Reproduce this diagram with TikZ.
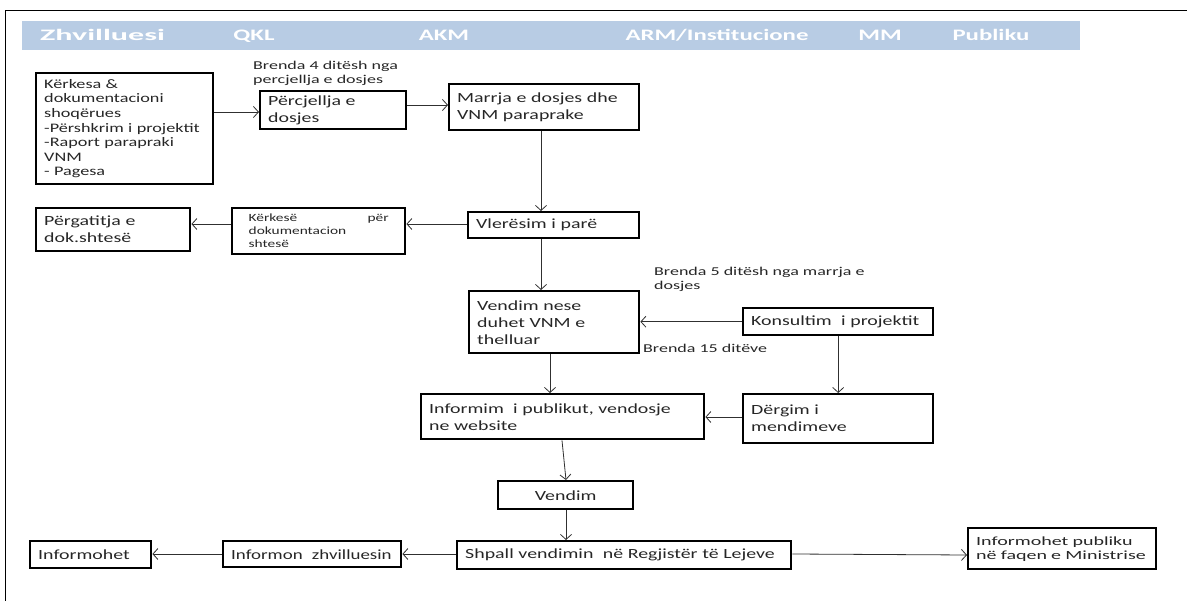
\documentclass[tikz,border=0pt]{standalone}
\usepackage{fontspec}
\setmainfont{Carlito}
\newfontfamily\fA[FakeStretch=1.42]{Carlito}
\newfontfamily\fM[FakeStretch=1.35]{Carlito}
\newfontfamily\fK[FakeStretch=1.4]{Carlito}
\newfontfamily\fL[FakeStretch=1.5]{Carlito}
\newfontfamily\fO[FakeStretch=1.6]{Carlito}
\newfontfamily\fE[FakeStretch=1.4]{Carlito}
\newfontfamily\fH[FakeStretch=1.55]{Carlito}
\newfontfamily\fZ[FakeStretch=2.0]{Carlito}
\usetikzlibrary{arrows.meta}
\definecolor{hdr}{HTML}{B8CCE4}
\definecolor{ln}{HTML}{303030}
\tikzset{
  box/.style={draw=black, line width=2.4pt, anchor=north west, inner xsep=8pt, inner ysep=2pt, align=left, font=\fA\fontsize{14}{17}\selectfont, text=black!85},
  hd/.style={font=\fH\fontsize{16}{17}\selectfont\bfseries, text=white, anchor=base},
  lbl/.style={font=\fL\fontsize{12}{13.5}\selectfont, align=left, anchor=north west, inner sep=0pt, text=black!85},
  conn/.style={draw=ln, line width=0.8pt, -{Straight Barb[length=5pt,width=11pt,line width=0.8pt]}}
}
\newcommand{\bx}[6]{\node[box, minimum width=#4pt, minimum height=#5pt, text width=#4pt-16pt] (#1) at (#2,#3) {#6};}
\begin{document}
\begin{tikzpicture}[x=1pt,y=-1pt]
\useasboundingbox (0,0) rectangle (1187,601);
% frame
\draw[line width=1.2pt] (5.5,620) -- (5.5,10.5) -- (1200,10.5);
% header
\fill[hdr] (22,21) rectangle (1080,50);
\node[hd, anchor=base west, inner sep=0pt, font=\fZ\fontsize{16}{17}\selectfont\bfseries] (h1) at (40,41) {Zhvilluesi};
\node[hd] (h2) at (254,41) {QKL};
\node[hd] (h3) at (444,41) {AKM};
\node[hd] (h4) at (717,41) {ARM/Institucione};
\node[hd] (h5) at (880,41) {MM};
\node[hd] (h6) at (991,41) {Publiku};
% boxes
\node[box, minimum width=177pt, minimum height=111pt, text width=161pt, font=\fK\fontsize{13}{14.6}\selectfont] (a) at (35,72) {Kërkesa \&\\dokumentacioni\\shoqërues\\-Përshkrim i projektit\\-Raport parapraki\\VNM\\- Pagesa};
\bx{b}{259}{90}{146}{38}{Përcjellja e\\dosjes}
\bx{c}{448}{83}{190}{46}{Marrja e dosjes dhe\\VNM paraprake}
\bx{d}{467}{211}{171}{26}{Vlerësim i parë}
\node[box, minimum width=173pt, minimum height=46pt, text width=140pt, font=\fE\fontsize{11}{13}\selectfont] (e) at (231,207) {Kërkesë\hfill për\\dokumentacion\\shtesë};
\bx{f}{35}{207}{154}{43}{Përgatitja e\\dok.shtesë}
\bx{g}{468}{290}{170}{62}{Vendim nese\\duhet VNM e\\thelluar}
\bx{h}{742}{307}{190}{27}{\mbox{Konsultim\ \ i projektit}}
\bx{i}{742}{393}{190}{49}{Dërgim i\\mendimeve}
\bx{j}{420}{393}{283}{45}{Informim\ \ i publikut, vendosje\\ne website}
\node[box, minimum width=135pt, minimum height=28pt, align=center, text width=119pt] (k) at (497,480) {Vendim};
\bx{l}{456}{540}{334}{28}{\mbox{Shpall vendimin\ \ në Regjistër të Lejeve}}
\node[box, minimum width=178pt, minimum height=26pt, text width=162pt, font=\fM\fontsize{14}{17}\selectfont] (m) at (222,540) {\mbox{Informon\ \ zhvilluesin}};
\bx{n}{29}{540}{121}{27}{Informohet}
\node[box, minimum width=188pt, minimum height=41pt, text width=172pt, font=\fO\fontsize{12.5}{14}\selectfont] (o) at (967,527) {Informohet publiku\\në faqen e Ministrise};
% labels
\node[lbl] (t1) at (253,61) {Brenda 4 ditësh nga\\percjellja e dosjes};
\node[lbl] (t2) at (654,267) {Brenda 5 ditësh nga marrja e\\dosjes};
\node[lbl] (t3) at (643,344) {Brenda 15 ditëve};
% connectors
\draw[conn] (a.east |- 0,112) -- (b.west |- 0,112);
\draw[conn] (b.east |- 0,105) -- (c.west |- 0,105);
\draw[conn] (c.south -| 541,0) -- (d.north -| 541,0);
\draw[conn] (d.west |- 0,224) -- (e.east |- 0,224);
\draw[conn] (e.west |- 0,224) -- (f.east |- 0,224);
\draw[conn] (d.south -| 541,0) -- (g.north -| 541,0);
\draw[conn] (h.west) -- (g.east |- h.west);
\draw[conn] (g.south -| 550,0) -- (j.north -| 550,0);
\draw[conn] (h.south) -- (i.north);
\draw[conn] (i.west |- 0,417) -- (j.east |- 0,417);
\draw[conn] (j.south -| 562,0) -- (k.north -| 566,0);
\draw[conn] (k.south -| 566,0) -- (l.north -| 566,0);
\draw[conn] (l.west |- 0,554) -- (m.east |- 0,554);
\draw[conn] (m.west |- 0,554) -- (n.east |- 0,554);
\draw[conn] (l.east |- 0,554) -- (o.west |- 0,555);
\end{tikzpicture}
\end{document}
